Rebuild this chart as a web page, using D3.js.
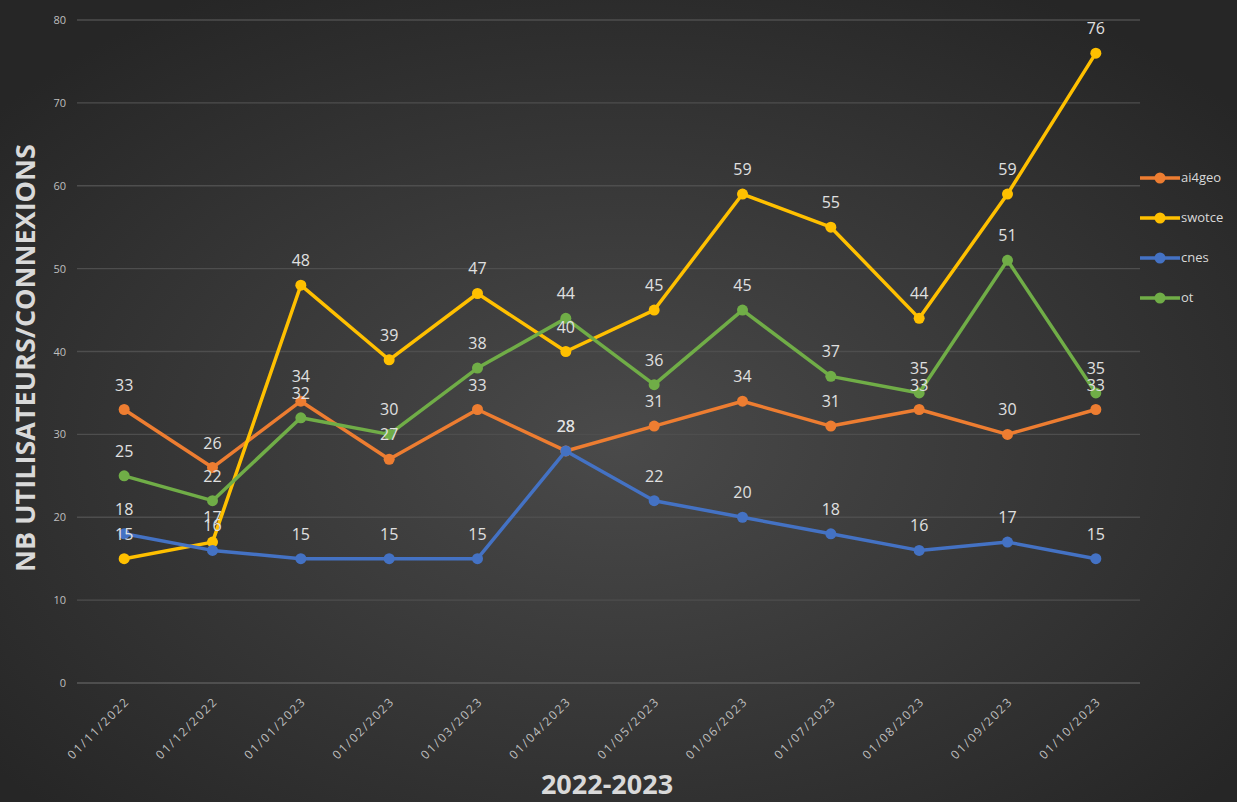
<!DOCTYPE html>
<html><head><meta charset="utf-8">
<script src="https://cdn.jsdelivr.net/npm/d3@7"></script>
<style>html,body{margin:0;padding:0;background:#2a2a2a;}svg{display:block;}</style>
</head><body>
<svg id="c" width="1237" height="802"></svg>
<script>
const categories = ["01/11/2022","01/12/2022","01/01/2023","01/02/2023","01/03/2023","01/04/2023","01/05/2023","01/06/2023","01/07/2023","01/08/2023","01/09/2023","01/10/2023"];
const ai4geo = [33,26,34,27,33,28,31,34,31,33,30,33];
const swotce = [15,17,48,39,47,40,45,59,55,44,59,76];
const cnes   = [18,16,15,15,15,28,22,20,18,16,17,15];
const ot     = [25,22,32,30,38,44,36,45,37,35,51,35];
const yTicks = [0,10,20,30,40,50,60,70,80];
const seriesNames = ["ai4geo","swotce","cnes","ot"];
const seriesColors = ["#ED7D31","#FFC000","#4472C4","#70AD47"];
const seriesData = [ai4geo, swotce, cnes, ot];

(function(){
const W=1237,H=802;
const svg=d3.select("#c");
const defs=svg.append("defs");
const rg=defs.append("radialGradient").attr("id","bg").attr("cx","50%").attr("cy","55%").attr("r","65%");
rg.append("stop").attr("offset","0%").attr("stop-color","#4a4a4a");
rg.append("stop").attr("offset","100%").attr("stop-color","#262626");
svg.append("rect").attr("width",W).attr("height",H).attr("fill","url(#bg)");

const pL=80,pR=1140,pT=20,pB=683;
const x=d3.scaleBand().domain(categories).range([pL,pR]);
const y=d3.scaleLinear().domain([0,80]).range([pB,pT]);
const font="'Open Sans','Liberation Sans',sans-serif";
const cx=(i)=>x(categories[i])+x.bandwidth()/2;

svg.append("g").selectAll("line").data(yTicks).join("line")
  .attr("x1",pL-3).attr("x2",pR).attr("y1",d=>y(d)).attr("y2",d=>y(d))
  .attr("stroke",d=>d===0?"#5a5a5a":"#4e4e4e").attr("stroke-width",1.3);

const ya=svg.append("g").attr("transform",`translate(${pL-14},0)`)
  .call(d3.axisLeft(y).tickValues(yTicks).tickSize(0).tickPadding(0));
ya.select(".domain").remove();
ya.selectAll("text").attr("fill","#bfbfbf").style("font-family",font).style("font-size","11px");

const xa=svg.append("g").attr("transform",`translate(0,${pB})`)
  .call(d3.axisBottom(x).tickSize(0));
xa.select(".domain").remove();
xa.selectAll("text").attr("fill","#bfbfbf").style("font-family",font).style("font-size","12px")
  .style("letter-spacing","1.8px")
  .attr("text-anchor","end").attr("dx","0").attr("dy","0")
  .attr("transform","translate(4,17) rotate(-45)");

svg.append("text").attr("transform",`translate(35,358) rotate(-90)`).attr("text-anchor","middle")
  .attr("fill","#d9d9d9").style("font-family",font).style("font-weight","bold").style("font-size","27px")
  .text("NB UTILISATEURS/CONNEXIONS");
svg.append("text").attr("x",607).attr("y",794).attr("text-anchor","middle")
  .attr("fill","#d9d9d9").style("font-family",font).style("font-weight","bold").style("font-size","27px")
  .text("2022-2023");

const line=d3.line().x((d,i)=>cx(i)).y(d=>y(d));
seriesData.forEach((data,k)=>{
  const g=svg.append("g");
  g.append("path").datum(data).attr("d",line).attr("fill","none")
    .attr("stroke",seriesColors[k]).attr("stroke-width",3.5).attr("stroke-linejoin","round");
  g.selectAll("circle").data(data).join("circle")
    .attr("cx",(d,i)=>cx(i)).attr("cy",d=>y(d)).attr("r",5.5)
    .attr("fill",seriesColors[k]);
});
seriesData.forEach((data,k)=>{
  svg.append("g").selectAll("text").data(data).join("text")
    .attr("x",(d,i)=>cx(i)).attr("y",d=>y(d)-19)
    .attr("text-anchor","middle").attr("fill","#e0e0e0")
    .style("font-family",font).style("font-size","16px").text(d=>d);
});

const lg=svg.append("g");
seriesNames.forEach((n,k)=>{
  const yy=178+k*40;
  lg.append("line").attr("x1",1140).attr("x2",1180).attr("y1",yy).attr("y2",yy)
    .attr("stroke",seriesColors[k]).attr("stroke-width",3.5);
  lg.append("circle").attr("cx",1160).attr("cy",yy).attr("r",5.5).attr("fill",seriesColors[k]);
  lg.append("text").attr("x",1181).attr("y",yy+4).attr("fill","#d9d9d9")
    .style("font-family",font).style("font-size","13px").text(n);
});
})();
</script>
</body></html>
